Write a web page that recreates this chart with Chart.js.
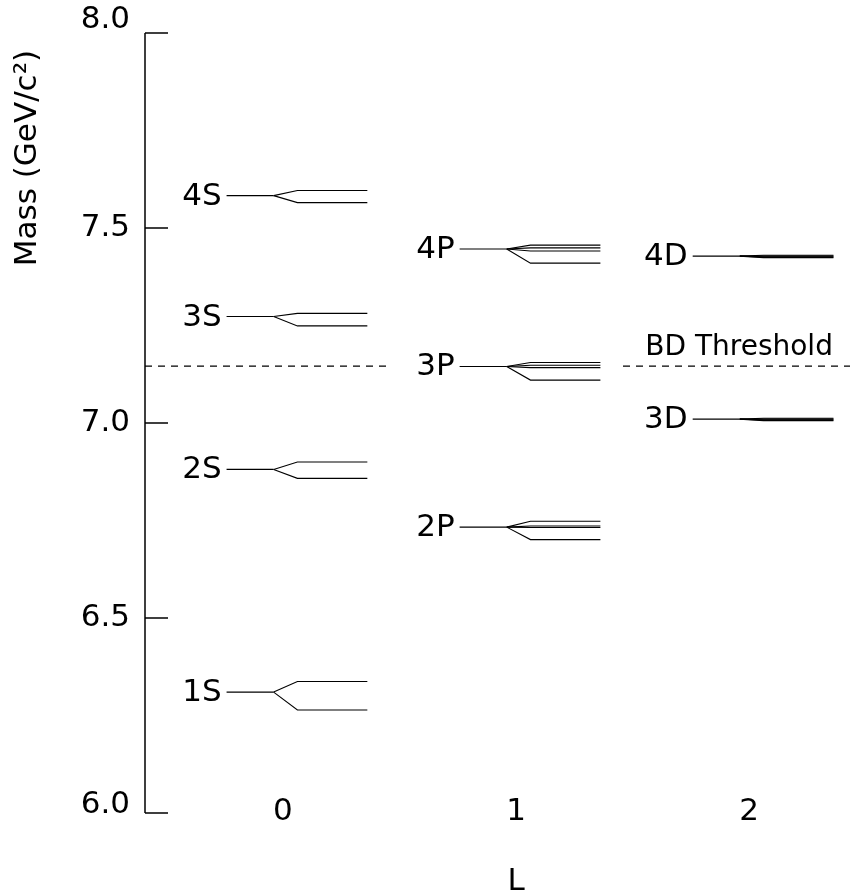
<!DOCTYPE html>
<html>
<head>
<meta charset="utf-8">
<script src="https://cdn.jsdelivr.net/npm/chart.js@4"></script>
<style>
    html, body { margin: 0; padding: 0; background: #fff; }
    #wrap { width: 850px; height: 896px; }
</style>
</head>
<body>
<div id="wrap"><canvas id="chartNiveles"></canvas></div>
<script>
// datos
const ondas = ['0', '1', '2'];            // L
const valoresL = [0, 1, 2];
const ticksMasa = [6.0, 6.5, 7.0, 7.5, 8.0];

const nombresNivel = ['1S', '2S', '3S', '4S', '2P', '3P', '4P', '3D', '4D'];
const nivelL = [0, 0, 0, 0, 1, 1, 1, 2, 2];
const masaNivel = [6.310, 6.881, 7.273, 7.583, 6.733, 7.145, 7.446, 7.010, 7.428];
const masasDesdobladas = [
    [6.337, 6.264],
    [6.900, 6.858],
    [7.281, 7.249],
    [7.596, 7.565],
    [6.748, 6.736, 6.732, 6.701],
    [7.155, 7.148, 7.142, 7.110],
    [7.456, 7.449, 7.441, 7.410],
    [7.012, 7.010, 7.008, 7.006],
    [7.430, 7.428, 7.426, 7.424]
];
const umbralBD = 7.146;
const textoUmbral = 'BD Threshold';

// geometria
const X_MIN = -0.592, X_MAX = 2.433;
const X_INI = -0.242, X_FORK = -0.040, X_FAN = 0.062, X_FIN = 0.362;
const FUENTE = '"DejaVu Sans", sans-serif';

const datasets = [];
nombresNivel.forEach((nombre, i) => {
    const L = nivelL[i], m = masaNivel[i];
    datasets.push({
        label: nombre,
        data: [{ x: L + X_INI, y: m }, { x: L + X_FORK, y: m }]
    });
    masasDesdobladas[i].forEach(s => {
        datasets.push({
            label: nombre + ' split',
            data: [{ x: L + X_FORK, y: m }, { x: L + X_FAN, y: s }, { x: L + X_FIN, y: s }]
        });
    });
});
datasets.forEach(d => {
    d.borderColor = '#000';
    d.borderWidth = 1.1;
    d.pointRadius = 0;
    d.tension = 0;
    d.fill = false;
});
datasets.push({
    label: textoUmbral,
    data: [
        { x: X_MIN, y: umbralBD }, { x: 0.468, y: umbralBD },
        { x: 0.9, y: null },
        { x: 1.459, y: umbralBD }, { x: X_MAX, y: umbralBD }
    ],
    borderColor: '#000',
    borderWidth: 1.3,
    borderDash: [7, 6],
    pointRadius: 0,
    spanGaps: false,
    fill: false
});

const dibujoExtra = {
    id: 'dibujoExtra',
    afterDraw(chart) {
        const ctx = chart.ctx;
        const xs = chart.scales.x, ys = chart.scales.y;
        const area = chart.chartArea;
        ctx.save();
        ctx.strokeStyle = '#000';
        ctx.fillStyle = '#000';

        // eje vertical con marcas hacia dentro
        ctx.lineWidth = 1.5;
        ctx.beginPath();
        ctx.moveTo(area.left, ys.getPixelForValue(8.0));
        ctx.lineTo(area.left, ys.getPixelForValue(6.0));
        ticksMasa.forEach(v => {
            const y = ys.getPixelForValue(v);
            ctx.moveTo(area.left, y);
            ctx.lineTo(area.left + 23, y);
        });
        ctx.stroke();

        // etiquetas del eje y (los extremos van algo por encima de la marca)
        ctx.font = '31px ' + FUENTE;
        ctx.textAlign = 'right';
        ctx.textBaseline = 'middle';
        ticksMasa.forEach(v => {
            let dy = 0;
            if (v === 8.0) dy = -13;
            if (v === 6.0) dy = -8;
            ctx.fillText(v.toFixed(1), area.left - 15, ys.getPixelForValue(v) + dy);
        });

        // etiquetas del eje x
        ctx.textAlign = 'center';
        valoresL.forEach((v, i) => {
            ctx.fillText(ondas[i], xs.getPixelForValue(v), area.bottom - 1);
        });

        // etiquetas de niveles
        ctx.textAlign = 'right';
        nombresNivel.forEach((nombre, i) => {
            const x = xs.getPixelForValue(nivelL[i] + X_INI) - 5;
            const y = ys.getPixelForValue(masaNivel[i]) + 1;
            ctx.fillText(nombre, x, y);
        });

        // texto umbral
        ctx.font = '28px ' + FUENTE;
        ctx.textAlign = 'center';
        ctx.fillText(textoUmbral, xs.getPixelForValue(2) - 10, ys.getPixelForValue(umbralBD) - 18);

        // titulo eje x
        ctx.font = '31px ' + FUENTE;
        ctx.fillText('L', xs.getPixelForValue(1), 882);

        // titulo eje y
        ctx.translate(28, 158);
        ctx.rotate(-Math.PI / 2);
        ctx.fillText('Mass (GeV/c²)', 0, 0);
        ctx.restore();
    }
};

new Chart(document.getElementById('chartNiveles'), {
    type: 'line',
    data: { datasets },
    options: {
        responsive: true,
        maintainAspectRatio: false,
        animation: false,
        events: [],
        layout: { padding: { top: 33, right: 0, left: 0, bottom: 0 } },
        plugins: { legend: { display: false }, tooltip: { enabled: false } },
        scales: {
            x: {
                type: 'linear',
                min: X_MIN,
                max: X_MAX,
                grid: { display: false },
                border: { display: false },
                ticks: { display: false },
                afterBuildTicks: s => { s.ticks = valoresL.map(v => ({ value: v })); },
                afterFit: s => { s.height = 83; }
            },
            y: {
                min: 6.0,
                max: 8.0,
                grid: { display: false },
                border: { display: false },
                ticks: { display: false },
                afterBuildTicks: s => { s.ticks = ticksMasa.map(v => ({ value: v })); },
                afterFit: s => { s.width = 145; }
            }
        }
    },
    plugins: [dibujoExtra]
});
</script>
</body>
</html>
